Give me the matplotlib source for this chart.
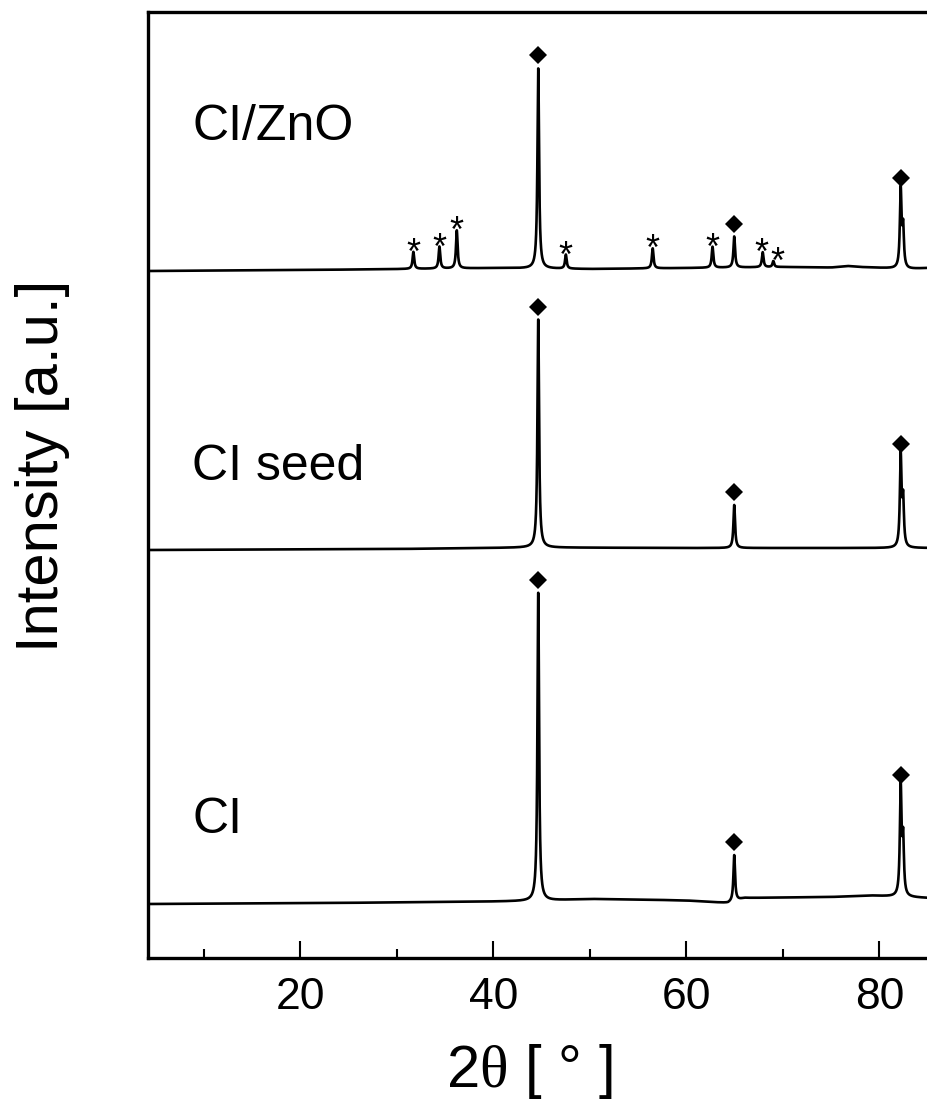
# XRD patterns of CI, CI seed and CI/ZnO, stacked with offsets
import matplotlib
matplotlib.use("Agg")
import matplotlib.pyplot as plt
import numpy as np

plt.rcParams['font.family'] = ['Liberation Sans', 'DejaVu Sans']
plt.rcParams['mathtext.fontset'] = 'custom'
plt.rcParams['mathtext.rm'] = 'Liberation Serif'

# --- data (2theta in degrees, intensity in a.u., already offset) ---
samples = ["CI", "CI seed", "CI/ZnO"]

# background level of each pattern at a few angles
ci_bg_x = [4.2, 23, 40, 44, 50, 55, 60, 64.3, 66, 70, 75, 79, 85.1]
ci_bg_y = [54, 55, 56.5, 57, 59, 58.5, 57.5, 55, 60, 60.5, 61, 62.5, 60]
seed_bg_x = [4.2, 30, 44, 60, 70, 85.1]
seed_bg_y = [408, 409, 410.5, 410, 410, 410]
zno_bg_x = [4.2, 20, 28, 40, 50, 60, 70, 75, 76.7, 78, 83, 85.1]
zno_bg_y = [687, 688, 688.7, 690, 689, 690, 691, 690.5, 692, 691, 689, 690]

# Fe reflections (marked with diamonds); 82.45 is the K-alpha2 shoulder
fe_pos = [44.64, 64.95, 82.2]
ci_fe_h = [308, 46, 109]
seed_fe_h = [228, 43, 91]
zno_fe_h = [200, 31, 78]
ka2_pos = 82.45
ka2_ratio = 0.5

# ZnO reflections (marked with asterisks)
zno_pos = [31.7, 34.4, 36.2, 47.5, 56.5, 62.7, 67.9, 69.0]
zno_h = [17, 22, 38, 14, 20, 21, 15, 6]
star_dx = [0, 0, 0, 0, 0, 0, -1, 4]   # nudge in pixels so the two last ones don't collide

fwhm = 0.2

x = np.arange(4.2, 85.1, 0.01)


def peak(x0, h, w=fwhm):
    return h / (1.0 + ((x - x0) / (w / 2.0)) ** 2)


def pattern(bg_x, bg_y, pos, hts):
    y = np.interp(x, bg_x, bg_y)
    for p, h in zip(pos, hts):
        y = y + peak(p, h)
    return y


def top_of(bg_x, bg_y, p, h):
    return np.interp(p, bg_x, bg_y) + h


traces = []
for bx, by, fh in [(ci_bg_x, ci_bg_y, ci_fe_h),
                   (seed_bg_x, seed_bg_y, seed_fe_h),
                   (zno_bg_x, zno_bg_y, zno_fe_h)]:
    pos = fe_pos + [ka2_pos]
    hts = fh + [fh[-1] * ka2_ratio]
    traces.append((bx, by, fh, pos, hts))

W, H = 927, 1099
fig = plt.figure(figsize=(W / 100, H / 100), dpi=100)
ax = fig.add_axes([148 / W, (H - 958) / H, 780 / W, 946 / H])

for i, (bx, by, fh, pos, hts) in enumerate(traces):
    y = pattern(bx, by, pos, hts)
    if i == 2:
        for p, h in zip(zno_pos, zno_h):
            y = y + peak(p, h)
    ax.plot(x, y, color='black', lw=1.9)
    tops = [top_of(bx, by, p, h) for p, h in zip(fe_pos, fh)]
    ax.plot(fe_pos, np.array(tops) + 13, 'D', color='black', ms=9.5, mew=0)

# asterisks over the ZnO peaks
for p, h, dx in zip(zno_pos, zno_h, star_dx):
    t = top_of(zno_bg_x, zno_bg_y, p, h)
    ax.annotate('*', (p, t), xytext=(dx, -12), textcoords='offset pixels',
                ha='center', va='baseline', fontsize=26)

# sample names
label_y = [125, 478, 818]
for name, ly in zip(samples, label_y):
    ax.text(8.76, ly, name, fontsize=36, ha='left', va='baseline')

ax.set_xlim(4.2, 85.03)
ax.set_ylim(0, 946)
ax.set_xticks([20, 40, 60, 80])
ax.set_xticks([10, 30, 50, 70], minor=True)
ax.set_yticks([])
ax.tick_params(axis='x', which='major', direction='in', length=12, width=1.5,
               labelsize=32, pad=14, top=False)
ax.tick_params(axis='x', which='minor', direction='in', length=6.5, width=1.5,
               top=False)
for s in ['left', 'bottom', 'top']:
    ax.spines[s].set_linewidth(2.4)
ax.spines['right'].set_visible(False)

fig.text(529 / W, 1 - 1087 / H, r'2$\mathrm{\theta}$ [ ° ]', fontsize=43,
         ha='center', va='baseline')
fig.text(43 / W, 1 - 466 / H, 'Intensity [a.u.]', fontsize=43, rotation=90,
         ha='center', va='center')

fig.savefig('out.png', dpi=100)
